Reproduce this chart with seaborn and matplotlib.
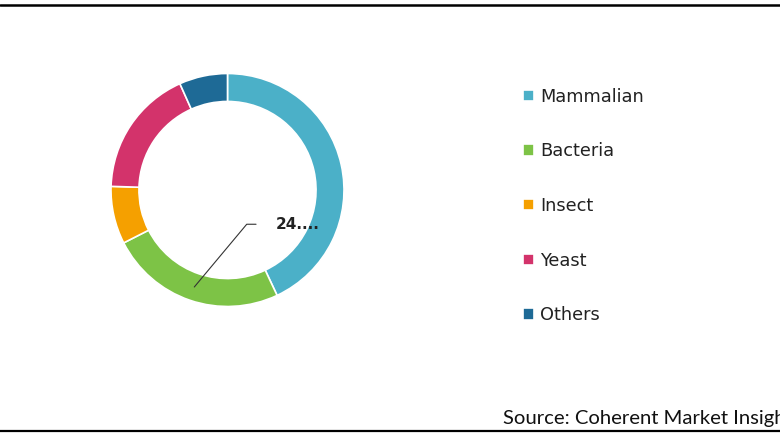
"""
Donut chart of expression-system shares, with a legend on the right.
"""

import matplotlib
matplotlib.use("Agg")
import matplotlib.pyplot as plt
import numpy as np
import seaborn as sns
from matplotlib.lines import Line2D

categories = ["Mammalian", "Bacteria", "Insect", "Yeast", "Others"]
shares = [43.0, 24.5, 8.0, 17.8, 6.7]
colors = ["#4BB0C8", "#7DC346", "#F5A000", "#D3336B", "#1E6A96"]
source = "Source: Coherent Market Insights"

sns.set_theme(style="white")
plt.rcParams["font.family"] = ["DejaVu Sans"]

fig = plt.figure(figsize=(7.8, 4.4), dpi=100)
fig.patch.set_facecolor("white")

# donut axes: centre (227, 190) px, radius ~116 px
ax = fig.add_axes([111 / 780, 133.5 / 440, 233 / 780, 233 / 440])
wedges, _ = ax.pie(
    shares,
    colors=colors,
    startangle=90,
    counterclock=False,
    radius=1.0,
    wedgeprops=dict(width=0.24, edgecolor="white", linewidth=1.2),
)
ax.set_xlim(-1, 1)
ax.set_ylim(-1, 1)
ax.set_aspect("equal")
ax.axis("off")

# leader line to the Bacteria label
w = wedges[1]
mid = np.deg2rad((w.theta1 + w.theta2) / 2)
r = 0.88
ax.plot(
    [r * np.cos(mid), 0.165, 0.245],
    [r * np.sin(mid), -0.294, -0.294],
    color="#333333",
    lw=0.8,
    clip_on=False,
)
ax.text(0.415, -0.30, f"{int(shares[1])}....", fontsize=11, fontweight="bold",
        color="#222222", va="center", ha="left")

fig.legend(
    wedges,
    categories,
    loc="center left",
    bbox_to_anchor=(523 / 780, 1 - 206 / 440),
    frameon=False,
    fontsize=12.8,
    handlelength=0.6,
    handleheight=0.6,
    handletextpad=0.35,
    labelspacing=2.06,
    borderpad=0,
    borderaxespad=0,
    labelcolor="#222222",
)

# the source line runs past the right edge, as in the original image
fig.text(503 / 780, 1 - 424 / 440, source, fontsize=14.6, family=["Lato", "DejaVu Sans"],
         color="#111111", ha="left", va="baseline")

# frame lines at top and bottom
fig.add_artist(Line2D([0, 1], [1 - 5.5 / 440] * 2, color="black", lw=1.8))
fig.add_artist(Line2D([0, 1], [1 - 430.5 / 440] * 2, color="black", lw=1.6))

fig.savefig("out.png", dpi=100, facecolor="white")
